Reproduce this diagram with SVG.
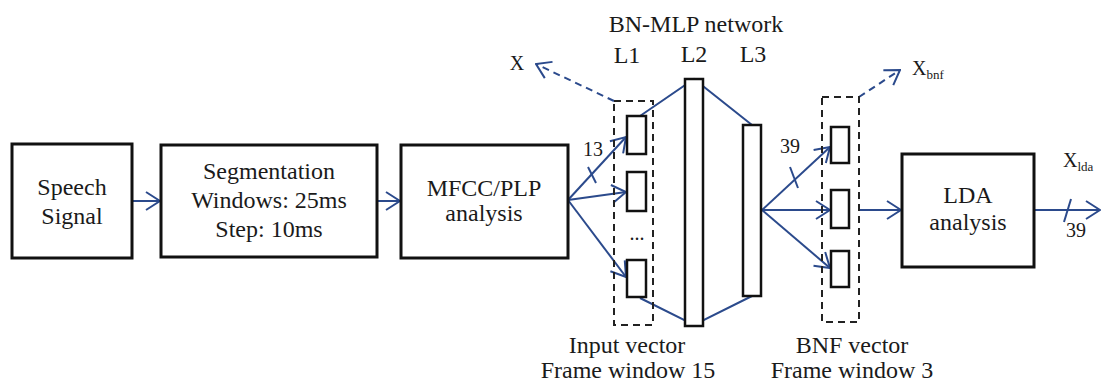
<svg xmlns="http://www.w3.org/2000/svg" width="1102" height="382" viewBox="0 0 1102 382">
  <defs>
    <style>
      svg g text, svg g tspan { font-family: "Liberation Serif", serif !important; }
      .box { fill: #ffffff; stroke: #111111; stroke-width: 3; }
      .cell { fill: #ffffff; stroke: #111111; stroke-width: 2.5; }
      .group { fill: none; stroke: #222222; stroke-width: 2; stroke-dasharray: 7 5; }
      .cap { font-size: 24px; fill: #1a1a1a; text-anchor: middle; }
      .num { font-size: 20px; fill: #1a1a1a; }
      .sub { font-size: 13px; }
      .flow { fill: none; stroke: #2b4a8c; stroke-width: 2; marker-end: url(#open); }
      .link { fill: none; stroke: #2b4a8c; stroke-width: 2; }
      .dflow { fill: none; stroke: #2b4a8c; stroke-width: 2; stroke-dasharray: 7 5; marker-end: url(#open); }
      .tick { stroke: #2b4a8c; stroke-width: 2; }
    </style>
    <marker id="open" viewBox="0 0 16 20" refX="15" refY="10" markerWidth="16" markerHeight="20" markerUnits="userSpaceOnUse" orient="auto">
      <path d="M1,1 L15,10 L1,19" fill="none" stroke="#2b4a8c" stroke-width="2"/>
    </marker>
  </defs>

  <rect width="1102" height="382" fill="#ffffff"/>

  <!-- connectors -->
  <g id="connectors">
    <line class="flow" x1="132" y1="201" x2="160" y2="201"/>
    <line class="flow" x1="377" y1="201" x2="400" y2="201"/>
    <!-- MFCC/PLP fan-out into input cells -->
    <line class="flow" x1="568" y1="200" x2="626" y2="137"/>
    <line class="flow" x1="568" y1="200" x2="626" y2="192"/>
    <line class="flow" x1="568" y1="200" x2="626" y2="277"/>
    <line class="tick" x1="588" y1="167" x2="596" y2="183"/>
    <!-- network outline -->
    <polyline class="link" points="640,116 694,79 752,125"/>
    <polyline class="link" points="640,298 694,325 752,296"/>
    <!-- L3 fan-out into BNF cells -->
    <line class="flow" x1="762" y1="210" x2="830" y2="147"/>
    <line class="flow" x1="762" y1="210" x2="830" y2="210"/>
    <line class="flow" x1="762" y1="210" x2="830" y2="268"/>
    <line class="tick" x1="790" y1="167" x2="798" y2="188"/>
    <!-- BNF to LDA -->
    <line class="flow" x1="859" y1="210" x2="901" y2="210"/>
    <!-- LDA output -->
    <line class="flow" x1="1034" y1="210" x2="1100" y2="210"/>
    <line class="tick" x1="1071" y1="199" x2="1064" y2="222"/>
    <!-- dashed taps -->
    <line class="dflow" x1="614" y1="101" x2="536" y2="64"/>
    <line class="dflow" x1="859" y1="97" x2="900" y2="70"/>
  </g>

  <g id="speech">
    <rect class="box" x="12" y="144" width="120" height="114"/>
    <text class="cap" style="font-family:'Liberation Serif',serif !important" x="72" y="195">Speech</text>
    <text class="cap" style="font-family:'Liberation Serif',serif !important" x="72" y="224">Signal</text>
  </g>

  <g id="segmentation">
    <rect class="box" x="161" y="145" width="216" height="112"/>
    <text class="cap" style="font-family:'Liberation Serif',serif !important" x="269" y="179">Segmentation</text>
    <text class="cap" style="font-family:'Liberation Serif',serif !important" x="269" y="208">Windows: 25ms</text>
    <text class="cap" style="font-family:'Liberation Serif',serif !important" x="269" y="237">Step: 10ms</text>
  </g>

  <g id="mfcc">
    <rect class="box" x="401" y="145" width="167" height="113"/>
    <text class="cap" style="font-family:'Liberation Serif',serif !important" x="484" y="196">MFCC/PLP</text>
    <text class="cap" style="font-family:'Liberation Serif',serif !important" x="484" y="221">analysis</text>
  </g>

  <g id="input-vector">
    <rect class="group" x="614" y="101" width="39" height="224"/>
    <rect class="cell" x="627" y="116" width="19" height="38"/>
    <rect class="cell" x="627" y="172" width="19" height="39"/>
    <text class="num" style="font-family:'Liberation Serif',serif !important" x="637" y="240" text-anchor="middle">...</text>
    <rect class="cell" x="627" y="260" width="19" height="37"/>
    <text class="cap" style="font-family:'Liberation Serif',serif !important" x="627" y="353">Input vector</text>
    <text class="cap" style="font-family:'Liberation Serif',serif !important" x="628" y="378">Frame window 15</text>
  </g>

  <g id="bn-mlp">
    <text class="cap" style="font-family:'Liberation Serif',serif !important" x="696" y="32">BN-MLP network</text>
    <text class="cap" style="font-family:'Liberation Serif',serif !important" x="627" y="63">L1</text>
    <text class="cap" style="font-family:'Liberation Serif',serif !important" x="694" y="62">L2</text>
    <text class="cap" style="font-family:'Liberation Serif',serif !important" x="753" y="62">L3</text>
    <rect class="cell" x="685" y="79" width="18" height="247"/>
    <rect class="cell" x="743" y="125" width="18" height="171"/>
  </g>

  <g id="bnf-vector">
    <rect class="group" x="822" y="97" width="37" height="225"/>
    <rect class="cell" x="831" y="127" width="18" height="36"/>
    <rect class="cell" x="831" y="190" width="18" height="38"/>
    <rect class="cell" x="831" y="251" width="18" height="36"/>
    <text class="cap" style="font-family:'Liberation Serif',serif !important" x="852" y="353">BNF vector</text>
    <text class="cap" style="font-family:'Liberation Serif',serif !important" x="852" y="378">Frame window 3</text>
  </g>

  <g id="lda">
    <rect class="box" x="902" y="154" width="132" height="113"/>
    <text class="cap" style="font-family:'Liberation Serif',serif !important" x="968" y="203">LDA</text>
    <text class="cap" style="font-family:'Liberation Serif',serif !important" x="968" y="230">analysis</text>
  </g>

  <g id="annotations">
    <text class="num" style="font-family:'Liberation Serif',serif !important" x="517" y="70" text-anchor="middle">X</text>
    <text class="num" style="font-family:'Liberation Serif',serif !important" x="593" y="156" text-anchor="middle">13</text>
    <text class="num" style="font-family:'Liberation Serif',serif !important" x="790" y="153" text-anchor="middle">39</text>
    <text class="num" style="font-family:'Liberation Serif',serif !important" x="912" y="75">X<tspan class="sub" dy="4">bnf</tspan></text>
    <text class="num" style="font-family:'Liberation Serif',serif !important" x="1063" y="167">X<tspan class="sub" dy="4">lda</tspan></text>
    <text class="num" style="font-family:'Liberation Serif',serif !important" x="1076" y="237" text-anchor="middle">39</text>
  </g>
</svg>
